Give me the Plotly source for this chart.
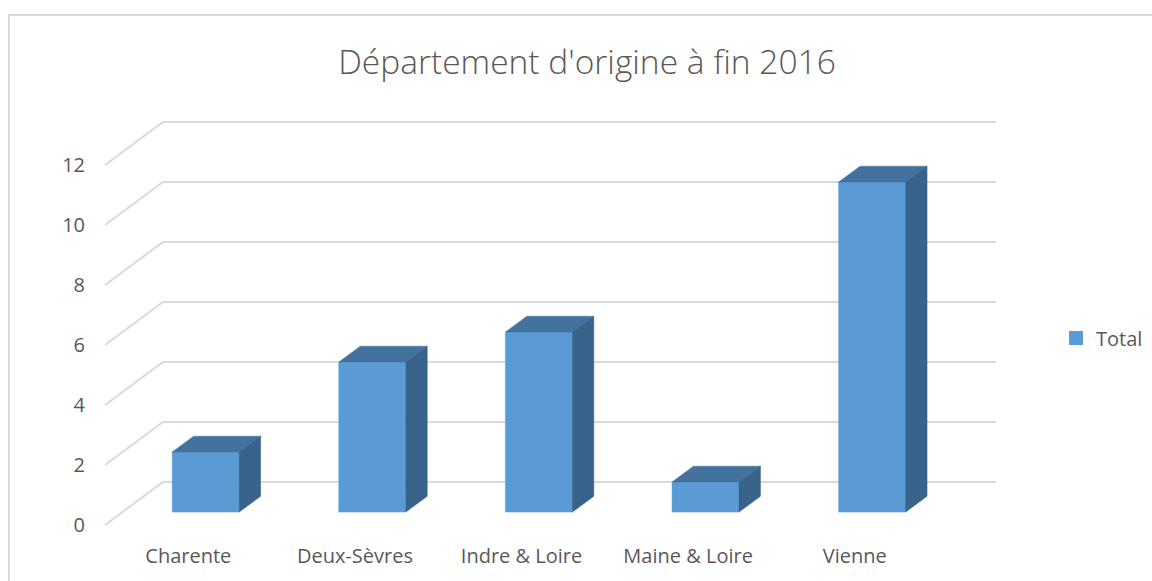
import plotly.graph_objects as go

# ---- data ----
categories = ["Charente", "Deux-Sèvres", "Indre & Loire", "Maine & Loire", "Vienne"]
values = [2, 5, 6, 1, 11]
y_ticks = [0, 2, 4, 6, 8, 10, 12]
series_name = "Total"
title_text = "Département d'origine à fin 2016"

# ---- oblique 3D projection (in axis units) ----
DX = 0.348      # x shift for full depth (category units)
DY = 1.433      # y shift for full depth (value units)
HALF_W = 0.201  # half bar width
D0, D1 = 0.30, 0.67  # bar depth span

def P(x, v, d):
    return x + DX * d, v + DY * d

FRONT = "#5B9BD5"
TOP = "#44729E"
SIDE = "#38638A"
GRID = "#D9D9D9"
TEXT = "#595959"
FONT = "Open Sans"

fig = go.Figure()

# gridlines: left wall diagonals + back wall horizontals
n = len(categories)
gx, gy = [], []
for t in y_ticks:
    for (x, v, d) in [(-0.5, t, 0), (-0.5, t, 1), (n - 0.5, t, 1)]:
        px, py = P(x, v, d)
        gx.append(px); gy.append(py)
    gx.append(None); gy.append(None)
fig.add_trace(go.Scatter(x=gx, y=gy, mode="lines", line=dict(color=GRID, width=2),
                         hoverinfo="skip", showlegend=False))

def poly(pts, color):
    xs = [P(*p)[0] for p in pts] + [P(*pts[0])[0]]
    ys = [P(*p)[1] for p in pts] + [P(*pts[0])[1]]
    fig.add_trace(go.Scatter(x=xs, y=ys, mode="lines", fill="toself", fillcolor=color,
                             line=dict(color=color, width=0.5), hoverinfo="skip",
                             showlegend=False))

for i, v in enumerate(values):
    l, r = i - HALF_W, i + HALF_W
    poly([(l, 0, D0), (r, 0, D0), (r, v, D0), (l, v, D0)], FRONT)
    poly([(l, v, D0), (r, v, D0), (r, v, D1), (l, v, D1)], TOP)
    poly([(r, 0, D0), (r, 0, D1), (r, v, D1), (r, v, D0)], SIDE)

# legend entry
fig.add_trace(go.Scatter(x=[None], y=[None], mode="markers", name=series_name,
                         marker=dict(symbol="square", size=14, color=FRONT, line=dict(width=0)),
                         showlegend=True))

# ---- layout ----
W, H = 1152, 581
PPX = 166.6   # px per category unit
PPY = 30.0    # px per value unit
front_left_px = 105
zero_px = 525
xr = [-0.53, n - 0.5 + DX + 0.03]
yr = [-0.3, 12 + DY + 0.3]
left = front_left_px - (-0.5 - xr[0]) * PPX
plot_w = (xr[1] - xr[0]) * PPX
bottom_px = zero_px + (0 - yr[0]) * PPY
plot_h = (yr[1] - yr[0]) * PPY
m_l = left
m_r = W - left - plot_w
m_b = H - bottom_px
m_t = bottom_px - plot_h

fig.update_layout(
    width=W, height=H,
    margin=dict(l=m_l, r=m_r, t=m_t, b=m_b, pad=0, autoexpand=False),
    paper_bgcolor="white", plot_bgcolor="rgba(0,0,0,0)",
    font=dict(family=FONT, color=TEXT),
    title=dict(text=title_text, x=587 / W, xref="container", xanchor="center",
               y=1 - 62 / H, yref="container", yanchor="middle",
               font=dict(family=FONT, size=33.5, color=TEXT, weight=300)),
    xaxis=dict(range=xr, showgrid=False, zeroline=False, showline=False,
               tickmode="array", tickvals=list(range(n)), ticktext=categories,
               tickfont=dict(size=20, color=TEXT), ticks="", ticklabelstandoff=8),
    yaxis=dict(range=yr, showgrid=False, zeroline=False, showline=False,
               tickmode="array", tickvals=y_ticks, ticktext=[str(t) for t in y_ticks],
               tickfont=dict(size=20, color=TEXT), ticks="", ticklabelstandoff=14),
    legend=dict(x=(1056 - left) / plot_w, xanchor="left",
                y=(bottom_px - 338) / plot_h, yanchor="middle",
                font=dict(size=20, color=TEXT), bgcolor="rgba(0,0,0,0)"),
    showlegend=True,
    shapes=[dict(type="rect", xref="paper", yref="paper", layer="below",
                 x0=(9 - left) / plot_w, x1=(W + 20 - left) / plot_w,
                 y0=(bottom_px - (H + 20)) / plot_h, y1=(bottom_px - 15) / plot_h,
                 line=dict(color=GRID, width=2))],
)

fig.write_html("out.html")
